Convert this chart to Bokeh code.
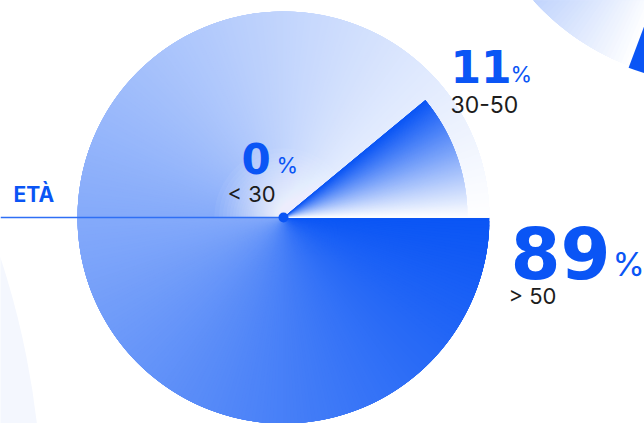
import numpy as np
from bokeh.plotting import figure
from bokeh.models import Range1d, ColumnDataSource
from bokeh.core.properties import value
from bokeh.embed import file_html
from bokeh.resources import INLINE

# ---- data ----
title = "ETÀ"
categories = ["< 30", "30-50", "> 50"]
values = [0, 11, 89]
value_labels = ["0", "11", "89"]

# ---- layout (pixel coordinates of the picture, y measured downward) ----
W, H = 644, 423
CX, CY_PIX = 283, 217
R_OUT = 206
R_SLICE = 184
label_num_x = [241, 450, 510]
label_num_base = [173, 82, 278]
label_num_size = [42, 44, 72]
label_pct_x = [276, 510, 612]
label_pct_base = [173, 82, 276]
label_pct_size = [22, 22, 33]
label_cat_x = [227, 450, 508]
label_cat_base = [202, 112, 304]
label_cat_size = [22, 23, 22]
BASE_FIX = 0.365  # svg text baseline correction (fraction of font size)

DARK = np.array([10, 85, 245])
WHITE = np.array([255, 255, 255])
BLUE = "#0a55f5"


def mix(t):
    c = DARK * (1 - t) + WHITE * t
    return "#%02x%02x%02x" % tuple(int(round(v)) for v in c)


def yup(ypix):
    return H - ypix


p = figure(width=W, height=H, x_range=Range1d(0, W), y_range=Range1d(0, H),
           output_backend="svg", toolbar_location=None,
           x_axis_location=None, y_axis_location=None, min_border=0)
p.grid.visible = False
p.outline_line_color = None
p.background_fill_color = "white"
p.border_fill_color = "white"

CY = yup(CY_PIX)


def gradient_wedges(cx, cy, radius, a_from, a_to, color_fn, n, overlap):
    """Wedges from math angle a_from to a_to (deg); each extends forward (never
    past a_to) so the next one, drawn later, hides the seam."""
    a = np.linspace(a_from, a_to, n + 1)
    sgn = 1 if a_to > a_from else -1
    d = dict(x=[], y=[], r=[], s=[], e=[], c=[])
    for i in range(n):
        lo, hi = a[i], a[i + 1]
        ext = min(overlap, abs(a_to - hi))
        hi2 = hi + sgn * ext
        s_, e_ = (lo, hi2) if sgn > 0 else (hi2, lo)
        d["x"].append(cx); d["y"].append(cy); d["r"].append(radius)
        d["s"].append(np.radians(s_)); d["e"].append(np.radians(e_))
        d["c"].append(color_fn((i + 0.5) / n))
    p.wedge(x="x", y="y", radius="r", start_angle="s", end_angle="e",
            fill_color="c", line_color=None, source=ColumnDataSource(d))


# ---- decorative faint circle bottom-left ----
p.circle(x=[-800], y=[yup(520)], radius=842, fill_color="#f4f7fe", line_color=None)

# ---- decorative pie top-right (conic gradient + blue slice) ----
dcx, dcy = 715, yup(-164)
gradient_wedges(dcx, dcy, 245, 130, 249.4, lambda u: mix(max(0.0, 1 - (1 - u) * 119.4 / 108)), 120, 3)
p.wedge(x=[dcx], y=[dcy], radius=247, start_angle=np.radians(249.4), end_angle=np.radians(300),
        fill_color=BLUE, line_color=None)

# ---- main pie: conic base ("> 50" slice, continuing as track) ----
total = float(sum(values))
p.circle(x=[CX], y=[CY], radius=R_OUT - 1.5, fill_color=mix(0.5), line_color=None)
# clockwise from east: math angle 0 -> -360
gradient_wedges(CX, CY, R_OUT, 0, -360, lambda u: mix(u), 360, 5)

# ---- soft white glow of the empty "< 30" sector near the centre ----
rg = np.linspace(0, 75, 400)
alpha_prof = np.minimum(0.88, 0.97 * (1 - rg / 75) ** 1.15)
a_each = 0.05
n_of_r = np.log(1 - alpha_prof) / np.log(1 - a_each)
glow_r = [float(rg[n_of_r >= k].max()) for k in range(1, int(n_of_r.max()) + 1)]
glow = ColumnDataSource(dict(x=[CX] * len(glow_r), y=[CY] * len(glow_r), r=glow_r,
                             s=[np.radians(30)] * len(glow_r), e=[np.pi] * len(glow_r)))
p.wedge(x="x", y="y", radius="r", start_angle="s", end_angle="e", source=glow,
        fill_color="#ffffff", fill_alpha=a_each, line_color=None)

# ---- "30-50" slice with its own gradient ----
span = values[1] / total * 360
gradient_wedges(CX, CY, R_SLICE, 0, span, lambda u: mix(1 - u), 120, 1.5)

# ---- axis line and centre dot ----
p.line(x=[0, CX], y=[CY, CY], line_color="#2f6ff5", line_width=1.5)
p.scatter(x=[CX], y=[CY], size=10, fill_color=BLUE, line_color=None)


# ---- texts ----
def label(x, base, txt, size, color, bold=False, font="Inter"):
    p.text(x=[x], y=[yup(base) + BASE_FIX * size], text=[txt], text_font=value(font),
           text_font_style="bold" if bold else "normal", text_font_size="%dpx" % size,
           text_color=color, text_baseline="alphabetic")


label(13, 202, title, 21, BLUE, bold=True)
for i in range(len(categories)):
    label(label_num_x[i], label_num_base[i], value_labels[i], label_num_size[i], BLUE,
          bold=True, font="DejaVu Sans")
    label(label_pct_x[i], label_pct_base[i], "%", label_pct_size[i], BLUE)
    label(label_cat_x[i], label_cat_base[i], categories[i], label_cat_size[i], "#1c1c1c")

open("out.html", "w").write(file_html(p, INLINE))
